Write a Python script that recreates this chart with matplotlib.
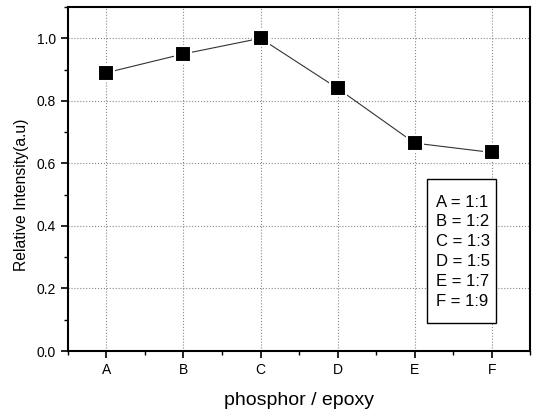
import matplotlib
matplotlib.use('Agg')
import matplotlib.pyplot as plt
from matplotlib.patches import Rectangle
from matplotlib.ticker import MultipleLocator

plt.rcParams['font.family'] = ['Liberation Sans', 'DejaVu Sans']

# phosphor / epoxy ratio samples
samples = ['A', 'B', 'C', 'D', 'E', 'F']
ratios = ['1:1', '1:2', '1:3', '1:5', '1:7', '1:9']
intensity = [0.89, 0.95, 1.0, 0.84, 0.665, 0.635]

fig = plt.figure(figsize=(5.34, 4.13), dpi=100)
ax = fig.add_axes([0.127, 0.150, 0.866, 0.833])

x = list(range(len(samples)))
ax.plot(x, intensity, color='#333333', linewidth=0.8, zorder=2)
ax.plot(x, intensity, linestyle='none', marker='s', markersize=11,
        markerfacecolor='black', markeredgecolor='white', markeredgewidth=1.5, zorder=3)

ax.set_xlim(-0.5, 5.5)
ax.set_ylim(0.0, 1.1)
ax.set_xticks(x)
ax.set_xticklabels(samples)
ax.xaxis.set_minor_locator(MultipleLocator(0.5))
ax.yaxis.set_major_locator(MultipleLocator(0.2))
ax.yaxis.set_minor_locator(MultipleLocator(0.1))
ax.yaxis.set_major_formatter(plt.FormatStrFormatter('%.1f'))

ax.tick_params(which='major', direction='out', length=5, width=1.2, labelsize=10)
ax.tick_params(which='minor', direction='out', length=3, width=1.0)
ax.grid(True, which='major', linestyle=':', color='#888888', linewidth=0.8)
for s in ax.spines.values():
    s.set_linewidth(1.5)

ax.set_xlabel('phosphor / epoxy', fontsize=14)
ax.xaxis.set_label_coords(0.5, -0.12)
ax.set_ylabel('Relative Intensity(a.u)', fontsize=11.3)
ax.yaxis.set_label_coords(-0.085, 0.453)

# ratio key in the lower right corner
ax.add_patch(Rectangle((0.777, 0.081), 0.149, 0.419, transform=ax.transAxes,
                       facecolor='white', edgecolor='black', linewidth=1.0, zorder=4))
legend_text = '\n'.join(f'{s} = {r}' for s, r in zip(samples, ratios))
ax.text(0.796, 0.289, legend_text, transform=ax.transAxes, fontsize=12,
        va='center', ha='left', linespacing=1.4, zorder=5)

plt.savefig('out.png', dpi=100)
plt.close()
